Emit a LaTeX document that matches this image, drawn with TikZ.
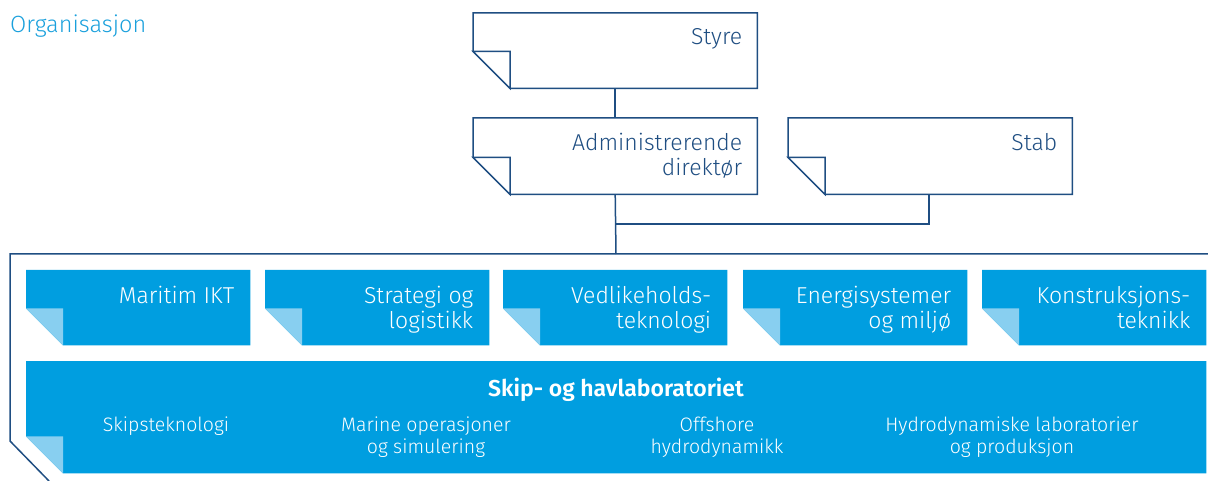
\documentclass[tikz,border=0pt]{standalone}
\usepackage{fontspec}
\setmainfont{Fira Sans}[UprightFont=* Light, BoldFont=* SemiBold]
\definecolor{navy}{HTML}{1F4E82}
\definecolor{cyanfill}{HTML}{009EE0}
\definecolor{foldblue}{HTML}{88CFF0}
\definecolor{titlecyan}{HTML}{1AA0DC}
\tikzset{
  frame/.style={draw=navy, line width=1.5pt},
  outlinebody/.style={draw=navy, fill=white, line width=1.5pt},
  outlinefold/.style={draw=navy, fill=white, line width=1.5pt, line join=miter},
  bluebody/.style={fill=cyanfill},
  bluefold/.style={fill=foldblue},
  boxnode/.style={draw=none, inner sep=0pt, anchor=north west},
  darklabel/.style={anchor=base east, align=right, text=navy, font=\fontsize{23}{25}\selectfont, inner sep=0pt},
  whitelabel/.style={anchor=base east, align=right, text=white, font=\fontsize{23}{25}\selectfont, inner sep=0pt},
  sublabel/.style={align=center, text=white, font=\fontsize{19.5}{22.5}\selectfont, inner sep=0pt, anchor=base},
  conn/.style={draw=navy, line width=1.5pt},
}
\newcommand{\foldshape}[4]{%
  \path[#2] (#1.north west) -- (#1.north east) -- (#1.south east) -- ([xshift=37pt]#1.south west) -- ([yshift=37pt]#1.south west) -- cycle;
  \path[#3] ([yshift=37pt]#1.south west) -- ([xshift=37pt,yshift=37pt]#1.south west) -- ([xshift=37pt]#1.south west) -- cycle;
}
\begin{document}
\begin{tikzpicture}[x=1pt,y=-1pt]
\useasboundingbox (0,0) rectangle (1208,481);
% title
\node[anchor=base west, text=titlecyan, font=\fontsize{23.5}{26}\selectfont, inner sep=0pt] (title) at (10,33) {Organisasjon};
% outlined boxes
\node[boxnode, minimum width=284pt, minimum height=75pt] (styre) at (473,13) {};
\node[boxnode, minimum width=284pt, minimum height=76pt] (adm) at (473,118) {};
\node[boxnode, minimum width=284pt, minimum height=76pt] (stab) at (788,118) {};
% connectors
\coordinate (split) at (616,224);
\coordinate (framein) at (616,254);
\draw[conn] (styre.south) -- (adm.north);
\draw[conn] (adm.south) -- (framein);
\draw[conn] (split) -| (stab.south -| 929,0);
% outer frame
\coordinate (frameR) at (1208,254);
\coordinate (frameL) at (10,254);
\draw[frame] (frameR) -- (frameL) -- (10,441) -- (49,481);
\foldshape{styre}{outlinebody}{outlinefold}{}
\foldshape{adm}{outlinebody}{outlinefold}{}
\foldshape{stab}{outlinebody}{outlinefold}{}
\node[darklabel] (styreT) at ([xshift=-15pt,yshift=-32pt]styre.north east) {Styre};
\node[darklabel] (admT) at ([xshift=-15pt,yshift=-58pt]adm.north east) {Administrerende\\direktør};
\node[darklabel] (stabT) at ([xshift=-15pt,yshift=-33pt]stab.north east) {Stab};
% blue boxes
\foreach \n/\x in {b1/26, b2/265, b3/503, b4/743, b5/982} {
  \node[boxnode, minimum width=224pt, minimum height=75pt] (\n) at (\x,270) {};
  \foldshape{\n}{bluebody}{bluefold}{}
}
\node[whitelabel] (b1T) at ([xshift=-16pt,yshift=-33pt]b1.north east) {Maritim IKT};
\node[whitelabel] (b2T) at ([xshift=-16pt,yshift=-58pt]b2.north east) {Strategi og\\logistikk};
\node[whitelabel] (b3T) at ([xshift=-16pt,yshift=-58pt]b3.north east) {Vedlikeholds-\\teknologi};
\node[whitelabel] (b4T) at ([xshift=-16pt,yshift=-58pt]b4.north east) {Energisystemer\\og miljø};
\node[whitelabel] (b5T) at ([xshift=-16pt,yshift=-58pt]b5.north east) {Konstruksjons-\\teknikk};
% big box
\node[boxnode, minimum width=1180pt, minimum height=112pt] (lab) at (26,361) {};
\foldshape{lab}{bluebody}{bluefold}{}
\node[anchor=base, text=white, font=\bfseries\fontsize{23}{26}\selectfont, inner sep=0pt] (labT) at (616,396) {Skip- og havlaboratoriet};
\node[sublabel] (s1) at (166,431) {Skipsteknologi};
\node[sublabel] (s2) at (426,453.5) {Marine operasjoner\\og simulering};
\node[sublabel] (s3) at (717,453.5) {Offshore\\hydrodynamikk};
\node[sublabel] (s4) at (1012,453.5) {Hydrodynamiske laboratorier\\og produksjon};
\end{tikzpicture}
\end{document}
